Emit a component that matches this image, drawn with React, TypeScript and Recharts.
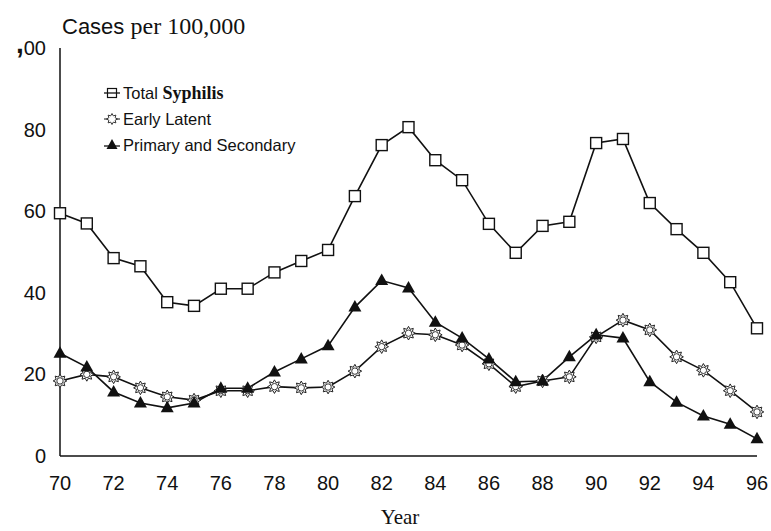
import { LineChart, Line, XAxis, YAxis, Label } from 'recharts';

const years = [70, 71, 72, 73, 74, 75, 76, 77, 78, 79, 80, 81, 82, 83, 84, 85, 86, 87, 88, 89, 90, 91, 92, 93, 94, 95, 96];
const totalSyphilis = [59.5, 57, 48.5, 46.5, 37.7, 36.8, 41, 41, 45, 47.8, 50.5, 63.7, 76.2, 80.6, 72.5, 67.6, 56.9, 49.8, 56.4, 57.4, 76.7, 77.7, 62, 55.6, 49.8, 42.6, 31.3];
const earlyLatent = [18.4, 20, 19.4, 16.7, 14.5, 13.7, 16, 16, 17, 16.7, 16.9, 20.8, 26.8, 30.1, 29.7, 27.2, 22.6, 17, 18.4, 19.4, 29.2, 33.3, 30.9, 24.3, 21, 16, 10.8];
const primarySecondary = [25.2, 21.8, 15.7, 13, 11.8, 13, 16.6, 16.6, 20.6, 23.8, 27, 36.5, 43, 41.2, 32.8, 28.9, 23.8, 18.2, 18.4, 24.3, 29.7, 28.9, 18.2, 13.2, 9.8, 7.8, 4.2];
const xTicks = [70, 72, 74, 76, 78, 80, 82, 84, 86, 88, 90, 92, 94, 96];
const yTicks = [0, 20, 40, 60, 80, 100];

const data = years.map((year, i) => ({
  year,
  total: totalSyphilis[i],
  early: earlyLatent[i],
  primary: primarySecondary[i],
}));

const SANS = 'Arial, "Liberation Sans", Helvetica, sans-serif';
const SERIF = '"Times New Roman", "Liberation Serif", serif';

function starPath(cx: number, cy: number, ro: number, ri: number) {
  const pts: string[] = [];
  for (let k = 0; k < 16; k++) {
    const r = k % 2 === 0 ? ro : ri;
    const a = (Math.PI * k) / 8 - Math.PI / 2;
    pts.push(`${(cx + r * Math.cos(a)).toFixed(2)},${(cy + r * Math.sin(a)).toFixed(2)}`);
  }
  return `M${pts.join('L')}Z`;
}

const SquareDot = (props: any) => {
  const { cx, cy, index } = props;
  if (cx == null || cy == null) return null;
  return <rect key={`s${index}`} x={cx - 5.5} y={cy - 5.5} width={11} height={11} fill="#fff" stroke="#111" strokeWidth={1.4} />;
};

const StarDot = (props: any) => {
  const { cx, cy, index } = props;
  if (cx == null || cy == null) return null;
  return (
    <g key={`e${index}`}>
      <path d={starPath(cx, cy, 6.8, 4.2)} fill="#fff" stroke="#222" strokeWidth={1} />
      <circle cx={cx} cy={cy} r={3.2} fill="#fff" stroke="#222" strokeWidth={0.9} />
    </g>
  );
};

const TriangleDot = (props: any) => {
  const { cx, cy, index } = props;
  if (cx == null || cy == null) return null;
  return <path key={`t${index}`} d={`M${cx},${cy - 7}L${cx + 6.5},${cy + 4.5}L${cx - 6.5},${cy + 4.5}Z`} fill="#111" />;
};

const YTick = (props: any) => {
  const { x, y, payload } = props;
  if (payload.value === 100) {
    return (
      <text x={x} y={y} textAnchor="end" dominantBaseline="central" fontFamily={SANS} fontSize={20} fill="#111">
        <tspan fontWeight="bold" fontSize={28} dy={-5}>,</tspan>
        <tspan dy={5}>00</tspan>
      </text>
    );
  }
  return (
    <text x={x} y={y} textAnchor="end" dominantBaseline="central" fontFamily={SANS} fontSize={20} fill="#111">
      {payload.value}
    </text>
  );
};

const LegendBox = () => (
  <div
    style={{
      position: 'absolute',
      left: 103,
      top: 80,
      fontFamily: SANS,
      fontSize: 16.5,
      color: '#111',
      lineHeight: '26px',
      whiteSpace: 'nowrap',
    }}
  >
    <div style={{ display: 'flex', alignItems: 'center' }}>
      <svg width={20} height={14}>
        <line x1={1} y1={7} x2={17} y2={7} stroke="#111" strokeWidth={1.3} />
        <rect x={4.5} y={2.5} width={9} height={9} fill="none" stroke="#111" strokeWidth={1.2} />
      </svg>
      <span>
        Total <span style={{ fontFamily: SERIF, fontWeight: 'bold', fontSize: 18 }}>Syphilis</span>
      </span>
    </div>
    <div style={{ display: 'flex', alignItems: 'center' }}>
      <svg width={20} height={14}>
        <line x1={1} y1={7} x2={17} y2={7} stroke="#111" strokeWidth={1} />
        <path d={starPath(9, 7, 5.5, 3.4)} fill="#fff" stroke="#222" strokeWidth={0.9} />
      </svg>
      <span>Early Latent</span>
    </div>
    <div style={{ display: 'flex', alignItems: 'center' }}>
      <svg width={20} height={14}>
        <line x1={1} y1={8} x2={17} y2={8} stroke="#111" strokeWidth={1.3} />
        <path d="M9,1L14.5,11L3.5,11Z" fill="#111" />
      </svg>
      <span>Primary and Secondary</span>
    </div>
  </div>
);

export default function App() {
  return (
    <div style={{ position: 'absolute', left: 0, top: 0, width: 771, height: 531, background: '#fff' }}>
      <LineChart width={771} height={531} data={data} margin={{ top: 48, right: 14, bottom: 35, left: 0 }}>
        <XAxis
          dataKey="year"
          type="number"
          domain={[70, 96]}
          ticks={xTicks}
          tickLine={false}
          axisLine={{ stroke: '#111', strokeWidth: 1.5 }}
          tickMargin={14}
          height={40}
          tick={{ fontFamily: SANS, fontSize: 20, fill: '#111' }}
        >
          <Label
            content={(p: any) => {
              const vb = p.viewBox || {};
              return (
                <text x={400} y={(vb.y ?? 456) + 68} textAnchor="middle" fontFamily={SERIF} fontSize={21} fill="#111">
                  Year
                </text>
              );
            }}
          />
        </XAxis>
        <YAxis
          type="number"
          domain={[0, 100]}
          ticks={yTicks}
          width={60}
          tickLine={false}
          tickMargin={8}
          axisLine={{ stroke: '#111', strokeWidth: 1.5 }}
          tick={<YTick />}
        >
          <Label
            content={() => (
              <text x={62} y={34} fill="#111">
                <tspan fontFamily={SANS} fontSize={22}>Cases </tspan>
                <tspan fontFamily={SERIF} fontSize={24}>per 100,000</tspan>
              </text>
            )}
          />
        </YAxis>
        <Line dataKey="total" stroke="#111" strokeWidth={1.6} dot={SquareDot} isAnimationActive={false} />
        <Line dataKey="early" stroke="#111" strokeWidth={1.6} dot={StarDot} isAnimationActive={false} />
        <Line dataKey="primary" stroke="#111" strokeWidth={1.6} dot={TriangleDot} isAnimationActive={false} />
      </LineChart>
      <LegendBox />
    </div>
  );
}
